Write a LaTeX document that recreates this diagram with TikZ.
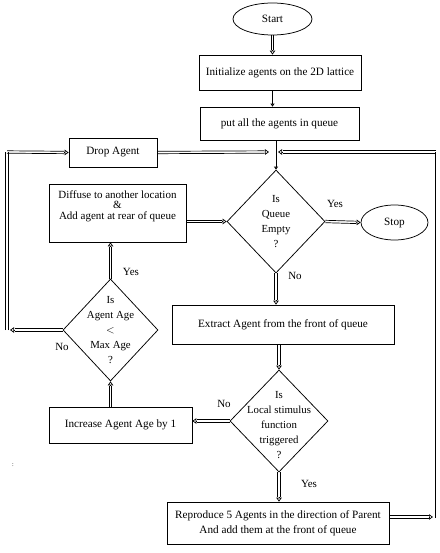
\documentclass[tikz,border=0pt]{standalone}
\usepackage{fontspec}
\setmainfont{Liberation Serif}
\usetikzlibrary{shapes.geometric,arrows.meta,calc}
\newcommand{\dblseg}[2]{%
  \draw[tw] ($(#1)!1.2pt!90:(#2)$) -- ($(#2)!1.2pt!-90:(#1)$);
  \draw[tw] ($(#1)!1.2pt!-90:(#2)$) -- ($(#2)!1.2pt!90:(#1)$);}
\newcommand{\dblarr}[2]{%
  \path ($(#2)!4.5pt!(#1)$) coordinate (dA);
  \dblseg{#1}{dA}
  \draw[tw, -{Triangle[open, length=4pt, width=5.5pt]}] (dA) -- (#2);}
\begin{document}
\begin{tikzpicture}[x=1pt,y=-1pt,
  font=\fontsize{11.2}{13}\selectfont,
  box/.style={draw, line width=0.75pt, rectangle, inner sep=0pt, align=center},
  term/.style={draw, line width=0.75pt, ellipse, inner sep=0pt},
  dec/.style={draw, line width=0.75pt, diamond, inner sep=0pt},
  dtext/.style={align=center, font=\fontsize{10.8}{15}\selectfont},
  tw/.style={line width=0.7pt},
  thin/.style={draw, line width=0.75pt, -{Triangle[open, length=3pt, width=4pt]}},
  lbl/.style={inner sep=0pt, font=\fontsize{11}{13}\selectfont}]
\useasboundingbox (0,0) rectangle (439,553);

% nodes
\node[term, minimum width=79pt, minimum height=32pt] (start) at (272.5,19) {Start};
\node[box, minimum width=162pt, minimum height=35pt] (init) at (280,72.5) {Initialize agents on the 2D lattice};
\node[box, minimum width=159pt, minimum height=33pt] (put) at (279.5,123.5) {put all the agents in queue};
\node[box, minimum width=88pt, minimum height=29pt] (drop) at (113,152.5) {Drop Agent};
\node[box, minimum width=137pt, minimum height=58pt, font=\fontsize{11}{12}\selectfont] (diff) at (117.5,213)
  {Diffuse to another location\\[-1.5pt]\&\\[-1.5pt]Add agent at rear of queue\\[4pt]};
\node[dec, minimum width=98pt, minimum height=103pt] (queue) at (276,221.5) {};
\node[dtext] (queuet) at (276,222) {Is\\Queue\\Empty\\?};
\node[term, minimum width=67pt, minimum height=35pt] (stop) at (394.5,222.5) {Stop};
\node[box, minimum width=222pt, minimum height=39pt] (extract) at (283,324.5) {Extract Agent from the front of queue};
\node[dec, minimum width=95pt, minimum height=102pt] (age) at (110.5,330) {};
\node[dtext] (aget) at (110.5,330) {Is\\Agent Age\\$<$\\Max Age\\?};
\node[box, minimum width=143pt, minimum height=36pt] (inc) at (120.5,425) {Increase Agent Age by 1};
\node[dec, minimum width=98pt, minimum height=102pt] (stim) at (279,421) {};
\node[dtext] (stimt) at (279,425) {Is\\Local stimulus\\function\\triggered\\?};
\node[box, minimum width=222pt, minimum height=42pt, font=\fontsize{11.2}{15}\selectfont] (rep) at (278,523)
  {Reproduce 5 Agents in the direction of Parent\\And add them at the front of queue};

% labels
\node[lbl] (yq) at (335,204) {Yes};
\node[lbl] (nq) at (295,276) {No};
\node[lbl] (ya) at (131,272) {Yes};
\node[lbl] (na) at (62,347) {No};
\node[lbl] (ns) at (224,404) {No};
\node[lbl] (ys) at (309,484) {Yes};
\node[lbl, font=\fontsize{6}{7}\selectfont] (dot) at (13,465) {:};

% connector end points
\coordinate (J) at (273,152);
\coordinate (Jl) at (269,152);
\coordinate (Jr) at (278,152);
\coordinate (L1) at (7,330);
\coordinate (L2) at (7,152);
\coordinate (R0) at (389,517);
\coordinate (R1) at (433,517);
\coordinate (R1b) at (435.5,518);
\coordinate (R2) at (435.5,152);
\coordinate (sA) at (start.south);
\coordinate (sB) at (start.south |- init.north);
\coordinate (iA) at (init.south -| start.south);
\coordinate (iB) at (put.north -| start.south);
\coordinate (pA) at (put.south -| queue.north);
\coordinate (qN) at (queue.north);
\coordinate (qE) at (queue.east);
\coordinate (sW) at (stop.west);
\coordinate (qW) at (queue.west);
\coordinate (dE) at (queue.west -| diff.east);
\coordinate (qS) at (queue.south);
\coordinate (eN) at (queue.south |- extract.north);
\coordinate (eS) at (extract.south -| stim.north);
\coordinate (tN) at (stim.north);
\coordinate (tW) at (stim.west);
\coordinate (iE) at (stim.west -| inc.east);
\coordinate (tS) at (stim.south);
\coordinate (rN) at (stim.south |- rep.north);
\coordinate (iN) at (inc.north -| age.south);
\coordinate (aS) at (age.south);
\coordinate (aN) at (age.north);
\coordinate (fS) at (age.north |- diff.south);
\coordinate (aW) at (age.west);
\coordinate (L1a) at (10,330);
\coordinate (dW) at (drop.west);
\coordinate (dEa) at (drop.east);

% connectors
\dblarr{sA}{sB}
\draw[thin] (iA) -- (iB);
\draw[thin] (pA) -- (qN);
\dblarr{dEa}{Jl}
\dblarr{R0}{R1}
\draw[tw] (R1b) -- (R2);
\dblarr{R2}{Jr}
\dblarr{aW}{L1a}
\dblseg{L1}{L2}
\dblarr{L2}{dW}
\dblarr{qE}{sW}
\dblarr{dE}{qW}
\dblarr{qS}{eN}
\dblarr{eS}{tN}
\dblarr{tW}{iE}
\dblarr{tS}{rN}
\dblarr{iN}{aS}
\dblarr{aN}{fS}
\end{tikzpicture}
\end{document}
